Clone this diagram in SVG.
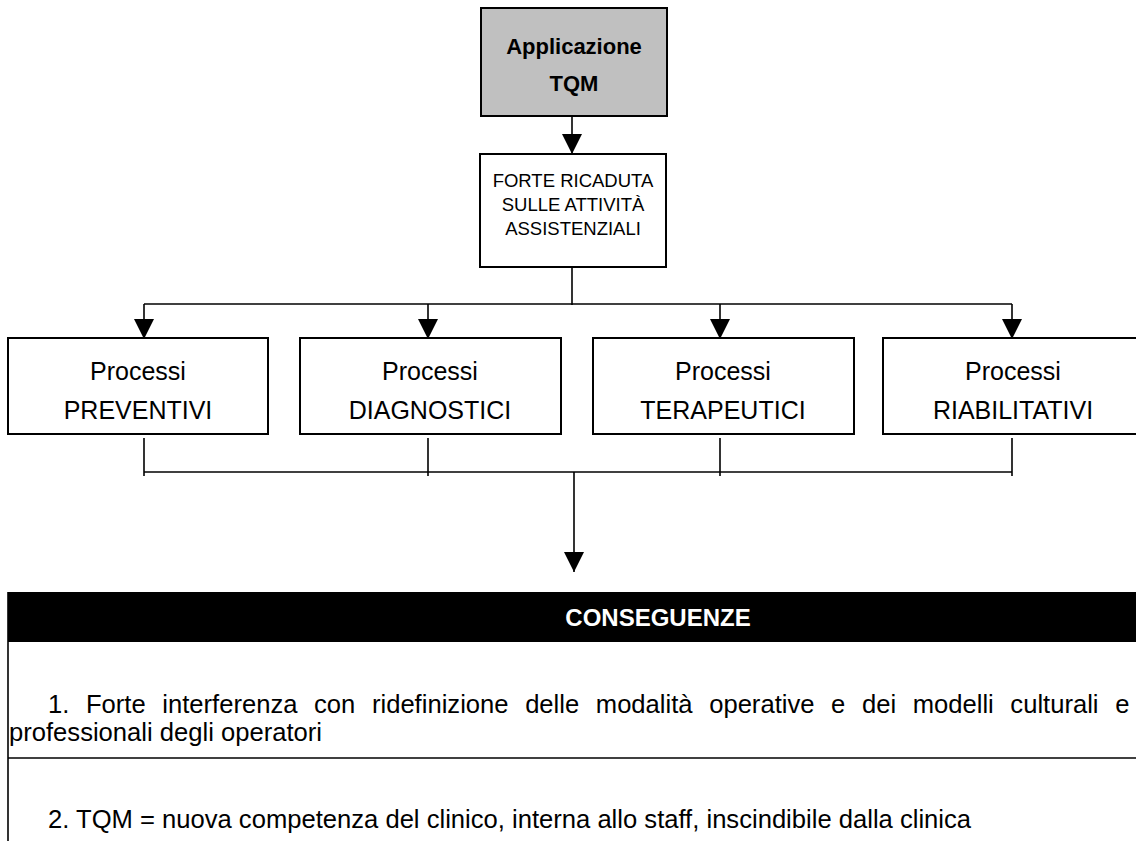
<svg xmlns="http://www.w3.org/2000/svg" width="1136" height="841" viewBox="0 0 1136 841">
  <style>
    .box { fill: #ffffff; stroke: #000000; stroke-width: 2; }
    .grey { fill: #c0c0c0; stroke: #000000; stroke-width: 2; }
    .ln { stroke: #000000; stroke-width: 1.6; fill: none; }
    .t { font-family: "Liberation Sans", Arial, sans-serif; fill: #000000; }
    .c { text-anchor: middle; }
    .b { font-weight: bold; }
  </style>
  <defs>
    <marker id="ah" viewBox="0 0 20 20" refX="20" refY="10" markerWidth="20" markerHeight="20" orient="auto" markerUnits="userSpaceOnUse">
      <path d="M0,0 L20,10 L0,20 z" fill="#000000"/>
    </marker>
  </defs>

  <g id="connectors">
    <line class="ln" x1="572" y1="116" x2="572" y2="154" marker-end="url(#ah)"/>
    <line class="ln" x1="572" y1="267" x2="572" y2="305"/>
    <line class="ln" x1="144" y1="304" x2="1012" y2="304"/>
    <line class="ln" x1="144" y1="304" x2="144" y2="339" marker-end="url(#ah)"/>
    <line class="ln" x1="428" y1="304" x2="428" y2="339" marker-end="url(#ah)"/>
    <line class="ln" x1="720" y1="304" x2="720" y2="339" marker-end="url(#ah)"/>
    <line class="ln" x1="1012" y1="304" x2="1012" y2="339" marker-end="url(#ah)"/>
    <line class="ln" x1="144" y1="438" x2="144" y2="476"/>
    <line class="ln" x1="428" y1="438" x2="428" y2="476"/>
    <line class="ln" x1="720" y1="438" x2="720" y2="476"/>
    <line class="ln" x1="1012" y1="438" x2="1012" y2="476"/>
    <line class="ln" x1="144" y1="472" x2="1012" y2="472"/>
    <line class="ln" x1="574" y1="472" x2="574" y2="572" marker-end="url(#ah)"/>
  </g>

  <g id="node-tqm">
    <rect class="grey" x="481" y="8" width="186" height="108"/>
    <text class="t c b" x="574" y="54" font-size="22">Applicazione</text>
    <text class="t c b" x="574" y="91" font-size="22">TQM</text>
  </g>

  <g id="node-ricaduta">
    <rect class="box" x="480" y="154" width="186" height="113"/>
    <text class="t c" x="573" y="187" font-size="18.5">FORTE RICADUTA</text>
    <text class="t c" x="573" y="211" font-size="18.5">SULLE ATTIVITÀ</text>
    <text class="t c" x="573" y="235" font-size="18.5">ASSISTENZIALI</text>
  </g>

  <g id="node-preventivi">
    <rect class="box" x="8" y="338" width="260" height="96"/>
    <text class="t c" x="138" y="380" font-size="25">Processi</text>
    <text class="t c" x="138" y="419" font-size="25">PREVENTIVI</text>
  </g>

  <g id="node-diagnostici">
    <rect class="box" x="300" y="338" width="261" height="96"/>
    <text class="t c" x="430" y="380" font-size="25">Processi</text>
    <text class="t c" x="430" y="419" font-size="25">DIAGNOSTICI</text>
  </g>

  <g id="node-terapeutici">
    <rect class="box" x="593" y="338" width="261" height="96"/>
    <text class="t c" x="723" y="380" font-size="25">Processi</text>
    <text class="t c" x="723" y="419" font-size="25">TERAPEUTICI</text>
  </g>

  <g id="node-riabilitativi">
    <rect class="box" x="883" y="338" width="262" height="96"/>
    <text class="t c" x="1013" y="380" font-size="25">Processi</text>
    <text class="t c" x="1013" y="419" font-size="25">RIABILITATIVI</text>
  </g>

  <g id="node-conseguenze">
    <rect x="8" y="592" width="1140" height="50" fill="#000000"/>
    <text class="t c b" x="658" y="626" font-size="24" style="fill:#ffffff">CONSEGUENZE</text>
    <line class="ln" x1="8" y1="592" x2="8" y2="841" stroke-width="2"/>
    <line class="ln" x1="8" y1="758" x2="1136" y2="758" stroke-width="2"/>
    <text class="t" x="48" y="713" font-size="25.6" word-spacing="9.5">1. Forte interferenza con ridefinizione delle modalità operative e dei modelli culturali e</text>
    <text class="t" x="9" y="741" font-size="25.6">professionali degli operatori</text>
    <text class="t" x="48" y="828" font-size="25.6">2. TQM = nuova competenza del clinico, interna allo staff, inscindibile dalla clinica</text>
  </g>
</svg>
